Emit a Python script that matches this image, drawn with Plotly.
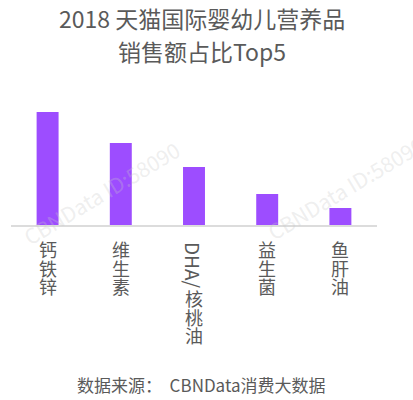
import plotly.graph_objects as go

# top5 categories and their (estimated) share of sales
categories = ["钙铁锌", "维生素", "DHA/核桃油", "益生菌", "鱼肝油"]
shares = [33.9, 24.6, 17.4, 9.3, 5.1]

title_lines = ["2018 天猫国际婴幼儿营养品", "销售额占比Top5"]
source_text = "数据来源：  CBNData消费大数据"
watermark = "CBNData ID:58090"

FONT = "Noto Sans CJK SC"
TEXT_COLOR = "#5a5a5a"
BAR_COLOR = "#9d4dff"

fig = go.Figure()
fig.add_trace(go.Bar(x=categories, y=shares, width=0.3,
                     marker=dict(color=BAR_COLOR, line=dict(width=0)),
                     hoverinfo="x+y"))

annotations = []

# vertical category labels: latin part rotated, CJK glyphs stacked upright.
# base font sets the line pitch (1.3 * 14.3 ~ 18.6px), span sets glyph size
for cat in categories:
    prefix = ""
    rest = cat
    while rest and ord(rest[0]) < 0x2E80:
        prefix += rest[0]
        rest = rest[1:]
    top = 12
    if prefix:
        annotations.append(dict(x=cat, xref="x", y=0, yref="paper", text=prefix,
                                textangle=90, showarrow=False, yanchor="middle",
                                yshift=-(17 + 23), font=dict(size=19, color=TEXT_COLOR, family=FONT)))
        top = 61
    stacked = "<br>".join('<span style="font-size:18px">%s</span>' % ch for ch in rest)
    annotations.append(dict(x=cat, xref="x", y=0, yref="paper", text=stacked,
                            showarrow=False, yanchor="top", yshift=-(top - 3),
                            font=dict(size=14.3, color=TEXT_COLOR, family=FONT)))

# title, two lines
for line, shift in zip(title_lines, [82, 49]):
    annotations.append(dict(x=0.522, xref="paper", y=1, yref="paper", text=line,
                            showarrow=False, yanchor="middle", yshift=shift,
                            font=dict(size=23, color=TEXT_COLOR, family=FONT)))

annotations.append(dict(x=0.52, xref="paper", y=0, yref="paper", text=source_text,
                        showarrow=False, yanchor="middle", yshift=-159,
                        font=dict(size=17, color=TEXT_COLOR, family=FONT)))

# faint watermarks
for wx, wy in [(101, 193), (345, 188)]:
    annotations.append(dict(x=(wx - 11) / 366, xref="paper", y=(225 - wy) / 125, yref="paper",
                            text=watermark, textangle=-31, showarrow=False,
                            xanchor="center", yanchor="middle",
                            font=dict(size=21, color="rgba(200,200,200,0.3)", family=FONT)))

fig.update_layout(
    width=413, height=400,
    margin=dict(l=11, r=36, t=100, b=175),
    paper_bgcolor="white", plot_bgcolor="white",
    showlegend=False,
    annotations=annotations,
    xaxis=dict(range=[-0.5, 4.5], showticklabels=False, showgrid=False, zeroline=False,
               showline=True, linecolor="#dcdcdc", linewidth=1.5, ticks=""),
    yaxis=dict(range=[0, 37.5], visible=False),
)

# drop the default 8px body margin so the figure sits at the window origin
fig.write_html("out.html", config={"displayModeBar": False},
               post_script="document.body.style.margin='0';")
